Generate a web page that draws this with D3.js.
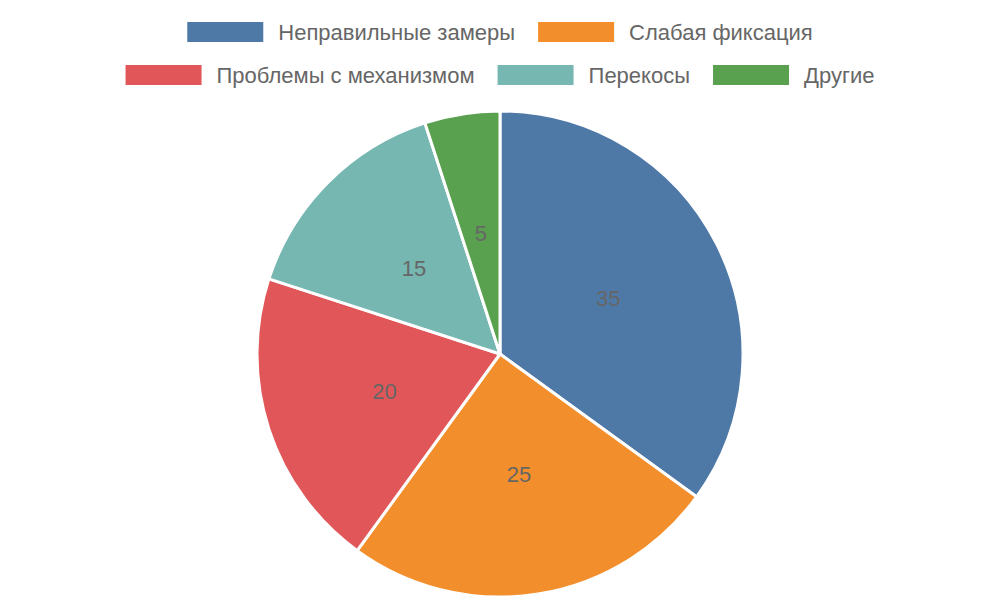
<!DOCTYPE html>
<html><head><meta charset="utf-8">
<script src="https://cdn.jsdelivr.net/npm/d3@7"></script>
<style>body{margin:0;background:#fff}</style></head>
<body><svg id="c" width="1000" height="600"></svg>
<script>
const categories = ["Неправильные замеры","Слабая фиксация","Проблемы с механизмом","Перекосы","Другие"];
const values = [35,25,20,15,5];
const colors = ["#4e79a7","#f28e2b","#e15759","#76b7b2","#59a14f"];
const rows = [[0,1],[2,3,4]];

const svg = d3.select("#c");
const cx = 500, cy = 354, r = 243;
const pie = d3.pie().sort(null)(values);
const arc = d3.arc().innerRadius(0).outerRadius(r);
const labelArc = d3.arc().innerRadius(r*0.5).outerRadius(r*0.5);
const g = svg.append("g").attr("transform",`translate(${cx},${cy})`);
g.selectAll("path").data(pie).join("path")
  .attr("d",arc).attr("fill",(d,i)=>colors[i]).attr("stroke","#fff").attr("stroke-width",3);
g.selectAll("text").data(pie).join("text")
  .attr("transform",d=>`translate(${labelArc.centroid(d)})`)
  .attr("text-anchor","middle").attr("dominant-baseline","central")
  .attr("font-family","Liberation Sans, Arial, sans-serif").attr("font-size",22).attr("fill","#666")
  .text(d=>d.data);

const boxW=76, boxH=20, gapT=15, gapI=23, font=22;
const rowY=[32,75];
rows.forEach((row,ri)=>{
  const lg = svg.append("g");
  let x=0;
  row.forEach(i=>{
    const item = lg.append("g").attr("transform",`translate(${x},0)`);
    item.append("rect").attr("x",0).attr("y",-boxH/2).attr("width",boxW).attr("height",boxH).attr("fill",colors[i]);
    const t = item.append("text").attr("x",boxW+gapT).attr("y",0).attr("dominant-baseline","central")
      .attr("font-family","Liberation Sans, Arial, sans-serif").attr("font-size",font).attr("fill","#666").text(categories[i]);
    x += boxW+gapT+t.node().getComputedTextLength()+gapI;
  });
  const w = x-gapI;
  lg.attr("transform",`translate(${(1000-w)/2},${rowY[ri]})`);
});
</script></body></html>
